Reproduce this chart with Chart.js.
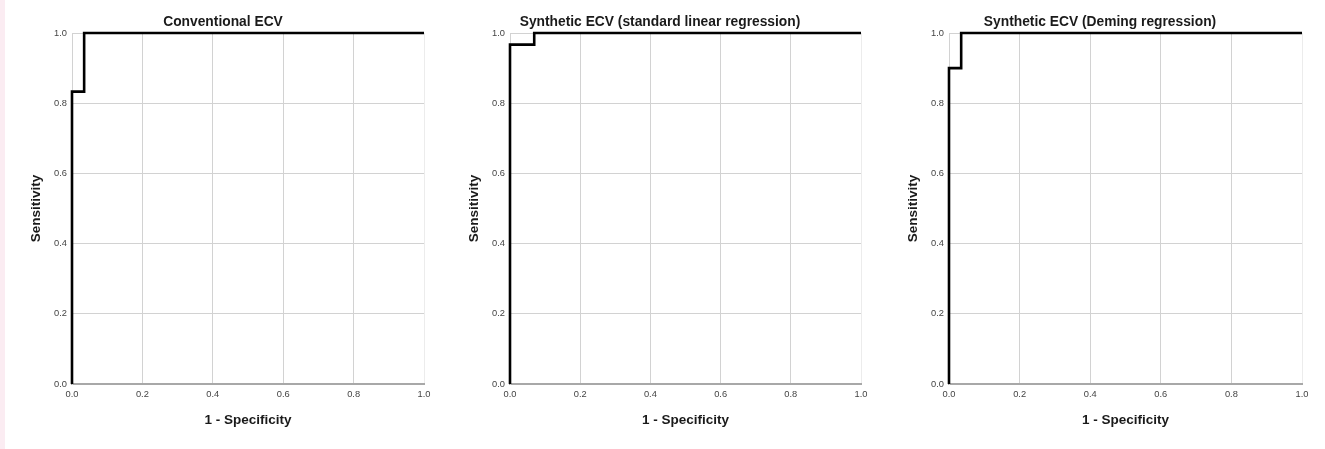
<!DOCTYPE html>
<html>
<head>
<meta charset="utf-8">
<script src="https://cdn.jsdelivr.net/npm/chart.js@4.4.1/dist/chart.umd.min.js"></script>
<style>
  html, body { margin: 0; padding: 0; background: #ffffff; }
  body { width: 1325px; height: 449px; position: relative; overflow: hidden; }
  #strip { position: absolute; left: 0; top: 0; width: 5px; height: 449px; background: #fbecf2; }
  canvas { position: absolute; top: 0; }
</style>
</head>
<body>
<div id="strip"></div>
<canvas id="c1" width="440" height="449" style="left:0px"></canvas>
<canvas id="c2" width="440" height="449" style="left:440px"></canvas>
<canvas id="c3" width="445" height="449" style="left:880px"></canvas>
<script>
// ---- data ----
const chartTitles = ["Conventional ECV", "Synthetic ECV (standard linear regression)", "Synthetic ECV (Deming regression)"];
const xAxisTitle = "1 - Specificity";
const yAxisTitle = "Sensitivity";
const tickValues = [0, 0.2, 0.4, 0.6, 0.8, 1.0];
const tickLabels = ["0.0", "0.2", "0.4", "0.6", "0.8", "1.0"];

const convFpr = [0, 0, 0.0345, 0.0345, 1];
const convTpr = [0, 0.833, 0.833, 1, 1];
const linFpr  = [0, 0, 0.069, 0.069, 1];
const linTpr  = [0, 0.967, 0.967, 1, 1];
const demFpr  = [0, 0, 0.0345, 0.0345, 1];
const demTpr  = [0, 0.9, 0.9, 1, 1];

// ---- layout (pixel geometry, separate from data) ----
const panels = [
  { id: "c1", canvasLeft: 0,   width: 440, plotLeft: 72,  plotRight: 424,  titleCenter: 223,  fpr: convFpr, tpr: convTpr, title: chartTitles[0] },
  { id: "c2", canvasLeft: 440, width: 440, plotLeft: 510, plotRight: 861,  titleCenter: 660,  fpr: linFpr,  tpr: linTpr,  title: chartTitles[1] },
  { id: "c3", canvasLeft: 880, width: 445, plotLeft: 949, plotRight: 1302, titleCenter: 1100, fpr: demFpr,  tpr: demTpr,  title: chartTitles[2] }
];
const plotTop = 33, plotBottom = 384, H = 449;
const fam = "'Liberation Sans', Arial, sans-serif";
const titleFont = { family: fam, size: 13.8, weight: "bold" };
const axisTitleFont = { family: fam, size: 13.5, weight: "bold" };
const tickFont = { family: fam, size: 9.3 };
const tlh = 13.8 * 1.2;
const lh = 13.5 * 1.2;

panels.forEach(p => {
  const localLeft = p.plotLeft - p.canvasLeft;
  const localRight = p.plotRight - p.canvasLeft;
  const localTitle = p.titleCenter - p.canvasLeft;
  const padR = p.width - localRight;
  const padL = 2 * localTitle - localRight;
  const yAxisW = localLeft - padL;
  const yTitleX = (p.plotLeft - 36) - p.canvasLeft; // centre of rotated y title
  const yTitlePad = yTitleX - padL - lh / 2;
  const xAxisH = 50;
  const padB = H - plotBottom - xAxisH;
  const layoutTop = 10;
  const titleCenterY = 22.5;
  const tTop = titleCenterY - layoutTop - tlh / 2;
  const tBottom = plotTop - layoutTop - tTop - tlh;

  const pts = p.fpr.map((x, i) => ({ x: x, y: p.tpr[i] }));

  new Chart(document.getElementById(p.id), {
    type: "scatter",
    data: {
      datasets: [{
        data: pts,
        showLine: true,
        borderColor: "#000000",
        borderWidth: 2.6,
        pointRadius: 0,
        pointHoverRadius: 0,
        fill: false,
        tension: 0,
        clip: 4
      }]
    },
    options: {
      responsive: false,
      animation: false,
      devicePixelRatio: 1,
      layout: { padding: { left: padL, right: padR, top: layoutTop, bottom: padB } },
      plugins: {
        legend: { display: false },
        tooltip: { enabled: false },
        title: {
          display: true,
          text: p.title,
          color: "#1a1a1a",
          font: titleFont,
          padding: { top: tTop, bottom: tBottom }
        }
      },
      scales: {
        x: {
          type: "linear",
          min: 0, max: 1,
          afterBuildTicks: s => { s.ticks = tickValues.map(v => ({ value: v })); },
          afterFit: s => { s.height = xAxisH; },
          ticks: {
            callback: (v) => tickLabels[tickValues.indexOf(Math.round(v * 10) / 10)],
            color: "#444444",
            font: tickFont,
            padding: 5,
            maxRotation: 0,
            autoSkip: false
          },
          grid: {
            drawTicks: false,
            color: c => (c.tick && c.tick.value === 1 ? "#ececec" : "#d2d2d2"),
            lineWidth: 1
          },
          border: { color: "#a8a8a8", width: 2 },
          title: {
            display: true,
            text: xAxisTitle,
            color: "#1a1a1a",
            font: axisTitleFont,
            padding: { top: 0, bottom: 6 }
          }
        },
        y: {
          type: "linear",
          min: 0, max: 1,
          afterBuildTicks: s => { s.ticks = tickValues.map(v => ({ value: v })); },
          afterFit: s => { s.width = yAxisW; },
          ticks: {
            callback: (v) => tickLabels[tickValues.indexOf(Math.round(v * 10) / 10)],
            color: "#444444",
            font: tickFont,
            padding: 5,
            autoSkip: false
          },
          grid: {
            drawTicks: false,
            color: "#d2d2d2",
            lineWidth: 1
          },
          border: { color: "#d2d2d2", width: 1 },
          title: {
            display: true,
            text: yAxisTitle,
            color: "#1a1a1a",
            font: axisTitleFont,
            padding: { top: yTitlePad, bottom: 0 }
          }
        }
      }
    }
  });
});
</script>
</body>
</html>
